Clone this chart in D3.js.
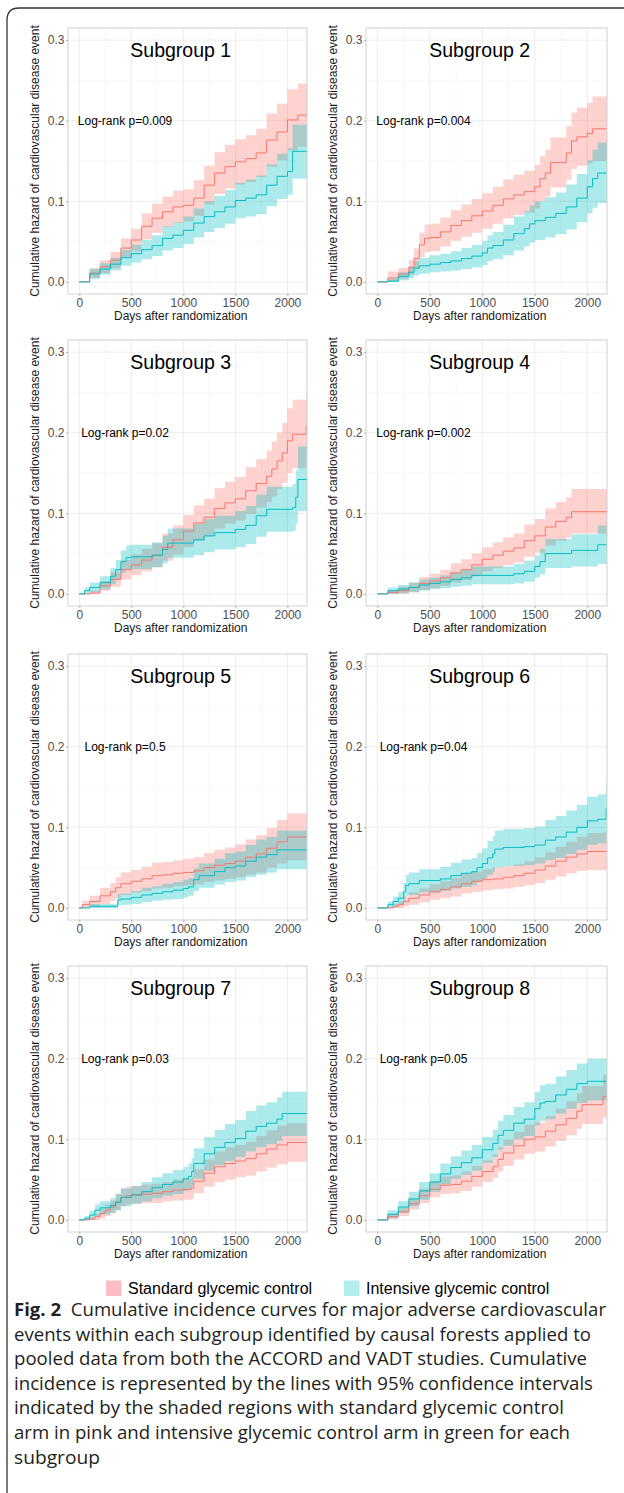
<!DOCTYPE html>
<html>
<head>
<meta charset="utf-8">
<script src="https://cdn.jsdelivr.net/npm/d3@7"></script>
<style>
  body { margin: 0; background: #fff; }
  svg { display: block; }
</style>
</head>
<body>
<script>
// titles, annotations and ticks
let titles = ["Subgroup 1", "Subgroup 2", "Subgroup 3", "Subgroup 4",
  "Subgroup 5", "Subgroup 6", "Subgroup 7", "Subgroup 8"];
let pLabels = ["Log-rank p=0.009", "Log-rank p=0.004", "Log-rank p=0.02", "Log-rank p=0.002",
  "Log-rank p=0.5", "Log-rank p=0.04", "Log-rank p=0.03", "Log-rank p=0.05"];
let xTicks = [0, 500, 1000, 1500, 2000];
let xMinor = [250, 750, 1250, 1750];
let yTicks = [0, 0.1, 0.2, 0.3];
let yMinor = [0.05, 0.15, 0.25];
let xTitle = "Days after randomization";
let yTitle = "Cumulative hazard of cardiovascular disease event";
let legendLabels = ["Standard glycemic control", "Intensive glycemic control"];
let captionBold = "Fig. 2";
let captionLines = [
  "  Cumulative incidence curves for major adverse cardiovascular",
  "events within each subgroup identified by causal forests applied to",
  "pooled data from both the ACCORD and VADT studies. Cumulative",
  "incidence is represented by the lines with 95% confidence intervals",
  "indicated by the shaded regions with standard glycemic control",
  "arm in pink and intensive glycemic control arm in green for each",
  "subgroup"
];

// [day, estimate, lower 95%, upper 95%]  standard (pink) / intensive (green)
let std1 = [[0,0,0,0],[100,.011,.005,.017],[200,.019,.011,.027],[300,.027,.017,.037],[400,.042,.030,.054],[500,.052,.038,.066],[600,.069,.053,.085],[700,.079,.061,.097],[800,.087,.068,.106],[900,.093,.073,.113],[1000,.095,.075,.115],[1100,.104,.082,.126],[1200,.120,.096,.144],[1300,.135,.109,.161],[1400,.143,.116,.170],[1500,.149,.121,.177],[1600,.153,.124,.182],[1700,.160,.130,.190],[1800,.176,.143,.209],[1900,.186,.151,.221],[2000,.201,.163,.239],[2100,.207,.168,.246],[2250,.207,.168,.246]];
let int1 = [[0,0,0,0],[100,.010,.004,.016],[200,.016,.009,.023],[300,.022,.014,.030],[400,.030,.020,.040],[500,.035,.024,.046],[600,.040,.028,.052],[700,.045,.032,.058],[800,.054,.039,.069],[900,.058,.042,.074],[1000,.064,.047,.081],[1100,.073,.055,.091],[1200,.081,.062,.100],[1300,.087,.067,.107],[1400,.093,.072,.114],[1500,.101,.079,.123],[1600,.104,.081,.127],[1700,.108,.084,.132],[1800,.120,.094,.146],[1900,.131,.103,.159],[2000,.137,.108,.166],[2050,.162,.128,.195],[2250,.162,.128,.195]];
let std2 = [[0,0,0,0],[100,.005,.001,.013],[200,.010,.004,.017],[300,.018,.009,.027],[350,.029,.017,.041],[400,.046,.031,.061],[450,.054,.037,.071],[500,.055,.038,.072],[600,.062,.044,.080],[700,.070,.051,.089],[800,.076,.056,.096],[900,.082,.061,.103],[1000,.088,.066,.110],[1100,.095,.072,.118],[1200,.103,.079,.127],[1300,.108,.083,.133],[1400,.112,.086,.138],[1500,.118,.091,.145],[1550,.128,.100,.156],[1600,.135,.106,.164],[1650,.148,.117,.179],[1800,.160,.127,.193],[1850,.175,.140,.210],[1900,.180,.144,.216],[2000,.184,.147,.222],[2050,.190,.150,.230],[2250,.190,.150,.230]];
let int2 = [[0,0,0,0],[100,.001,0,.004],[200,.007,.002,.012],[300,.012,.005,.019],[350,.017,.008,.026],[400,.020,.010,.030],[500,.022,.012,.033],[600,.024,.013,.035],[700,.026,.014,.038],[800,.029,.016,.042],[900,.032,.018,.046],[1000,.036,.021,.051],[1050,.042,.026,.058],[1100,.045,.028,.062],[1200,.052,.033,.071],[1300,.060,.039,.081],[1400,.066,.044,.088],[1450,.072,.049,.095],[1500,.076,.052,.100],[1600,.080,.055,.105],[1700,.085,.059,.111],[1800,.093,.065,.121],[1900,.104,.074,.134],[2000,.118,.085,.151],[2050,.128,.092,.164],[2100,.135,.098,.173],[2250,.135,.098,.173]];
let std3 = [[0,0,0,0],[100,.001,0,.004],[200,.010,.004,.016],[300,.018,.009,.027],[400,.030,.018,.042],[500,.036,.023,.049],[600,.042,.028,.056],[700,.048,.033,.063],[800,.058,.041,.075],[900,.067,.049,.085],[1000,.078,.058,.098],[1100,.088,.066,.110],[1200,.095,.072,.118],[1300,.106,.081,.131],[1400,.113,.087,.139],[1500,.118,.091,.145],[1600,.128,.099,.157],[1700,.137,.107,.167],[1800,.146,.114,.178],[1850,.155,.121,.189],[1900,.165,.130,.200],[1950,.175,.138,.212],[2000,.190,.150,.230],[2050,.198,.156,.241],[2180,.208,.164,.252],[2250,.208,.164,.252]];
let int3 = [[0,0,0,0],[50,.004,0,.008],[100,.008,.002,.014],[200,.014,.006,.022],[300,.022,.012,.032],[350,.030,.018,.042],[400,.040,.026,.054],[450,.045,.030,.060],[500,.046,.031,.061],[700,.048,.033,.064],[800,.055,.038,.072],[850,.063,.045,.081],[1100,.067,.048,.087],[1200,.072,.052,.093],[1300,.076,.055,.097],[1500,.080,.058,.103],[1600,.085,.062,.109],[1700,.097,.071,.123],[1800,.105,.077,.133],[2050,.107,.078,.136],[2080,.120,.087,.153],[2100,.142,.103,.183],[2250,.142,.103,.183]];
let std4 = [[0,0,0,0],[100,.002,0,.005],[200,.004,0,.009],[300,.008,.002,.014],[400,.013,.005,.021],[500,.016,.007,.025],[600,.020,.010,.030],[700,.026,.014,.038],[800,.030,.017,.043],[900,.036,.022,.050],[1000,.043,.028,.058],[1100,.048,.032,.064],[1200,.053,.036,.070],[1300,.057,.039,.075],[1400,.066,.046,.086],[1500,.072,.051,.093],[1600,.083,.060,.106],[1700,.090,.066,.114],[1800,.095,.070,.120],[1850,.102,.075,.130],[2250,.102,.075,.130]];
let int4 = [[0,0,0,0],[100,.004,0,.008],[200,.006,.001,.011],[300,.008,.002,.014],[400,.011,.004,.018],[500,.013,.006,.020],[600,.015,.007,.023],[700,.018,.009,.027],[800,.020,.010,.030],[900,.023,.012,.034],[1300,.025,.013,.037],[1400,.028,.015,.041],[1500,.034,.020,.048],[1550,.040,.024,.056],[1600,.050,.032,.068],[1850,.054,.034,.074],[2100,.061,.037,.085],[2250,.061,.037,.085]];
let std5 = [[0,0,0,0],[30,.004,0,.009],[100,.008,.001,.015],[200,.015,.005,.025],[300,.020,.009,.031],[350,.025,.012,.038],[400,.030,.016,.044],[500,.033,.019,.047],[600,.036,.021,.051],[700,.040,.024,.056],[800,.041,.025,.057],[900,.043,.027,.059],[1000,.044,.028,.061],[1100,.046,.029,.063],[1200,.050,.032,.068],[1300,.053,.034,.072],[1400,.055,.036,.075],[1500,.058,.038,.079],[1600,.063,.041,.085],[1700,.067,.044,.090],[1800,.074,.050,.099],[1900,.082,.055,.109],[2000,.088,.059,.117],[2250,.088,.059,.117]];
let int5 = [[0,0,0,0],[100,.002,0,.005],[370,.010,.003,.017],[400,.011,.004,.018],[500,.013,.005,.021],[600,.016,.007,.025],[700,.018,.009,.027],[800,.020,.010,.030],[900,.022,.011,.032],[1000,.024,.013,.035],[1050,.026,.015,.037],[1100,.035,.021,.049],[1150,.040,.025,.055],[1300,.045,.029,.061],[1400,.050,.032,.068],[1500,.052,.034,.070],[1600,.058,.038,.078],[1700,.063,.041,.085],[1800,.066,.044,.088],[1900,.072,.048,.096],[2250,.072,.048,.096]];
let std6 = [[0,0,0,0],[150,.002,0,.005],[200,.004,0,.008],[250,.008,.002,.014],[300,.012,.004,.019],[400,.016,.007,.024],[500,.020,.010,.029],[600,.023,.012,.033],[700,.026,.014,.037],[800,.030,.018,.042],[900,.033,.020,.045],[1000,.035,.022,.048],[1100,.036,.023,.050],[1200,.038,.024,.052],[1300,.040,.026,.054],[1400,.043,.028,.058],[1500,.047,.031,.063],[1600,.052,.035,.069],[1700,.058,.039,.076],[1800,.063,.043,.082],[1900,.067,.046,.088],[2000,.070,.047,.093],[2250,.070,.047,.093]];
let int6 = [[0,0,0,0],[100,.004,0,.008],[150,.008,.002,.014],[200,.012,.004,.020],[250,.020,.009,.031],[270,.028,.015,.041],[300,.030,.016,.044],[400,.034,.019,.048],[600,.036,.021,.051],[700,.040,.024,.056],[800,.043,.026,.060],[900,.045,.028,.062],[950,.050,.032,.068],[1000,.055,.036,.074],[1050,.062,.041,.083],[1100,.067,.045,.089],[1120,.073,.050,.096],[1200,.075,.052,.098],[1400,.076,.053,.099],[1500,.078,.055,.101],[1600,.084,.059,.109],[1700,.088,.062,.114],[1800,.094,.067,.121],[1900,.100,.072,.128],[2000,.108,.078,.138],[2100,.110,.080,.141],[2180,.123,.090,.156],[2250,.123,.090,.156]];
let std7 = [[0,0,0,0],[100,.001,0,.003],[150,.004,0,.008],[200,.008,.002,.014],[250,.012,.005,.019],[300,.016,.008,.024],[350,.022,.012,.032],[400,.028,.017,.039],[450,.030,.019,.041],[500,.031,.020,.042],[600,.032,.021,.044],[700,.033,.021,.045],[800,.035,.023,.047],[900,.037,.024,.050],[1000,.038,.025,.051],[1080,.040,.026,.054],[1100,.048,.033,.063],[1200,.058,.041,.075],[1300,.066,.047,.085],[1400,.070,.050,.090],[1500,.073,.053,.093],[1600,.076,.055,.097],[1700,.082,.060,.104],[1800,.088,.065,.111],[1900,.093,.069,.117],[2000,.096,.072,.120],[2250,.096,.072,.120]];
let int7 = [[0,0,0,0],[50,.002,0,.005],[100,.006,.001,.011],[150,.012,.005,.019],[200,.015,.007,.023],[300,.018,.009,.027],[350,.022,.012,.032],[400,.028,.017,.039],[500,.031,.020,.042],[600,.035,.023,.047],[700,.040,.027,.053],[800,.044,.030,.058],[900,.047,.032,.062],[1000,.051,.036,.066],[1050,.054,.038,.070],[1080,.060,.043,.077],[1100,.070,.051,.089],[1200,.082,.061,.103],[1300,.090,.068,.112],[1400,.096,.073,.119],[1500,.101,.078,.124],[1600,.110,.085,.135],[1700,.116,.090,.142],[1800,.120,.094,.146],[1900,.125,.098,.152],[1950,.132,.104,.159],[2250,.132,.104,.159]];
let std8 = [[0,0,0,0],[100,.004,.001,.008],[200,.010,.005,.015],[300,.020,.013,.027],[400,.030,.021,.039],[500,.038,.028,.048],[600,.043,.032,.054],[700,.044,.033,.055],[800,.048,.036,.060],[900,.054,.041,.067],[1000,.060,.047,.074],[1100,.066,.052,.081],[1150,.075,.060,.090],[1200,.083,.067,.099],[1300,.092,.075,.109],[1400,.100,.082,.118],[1500,.103,.085,.121],[1600,.110,.091,.129],[1700,.118,.098,.138],[1800,.126,.105,.147],[1900,.135,.113,.157],[1950,.143,.119,.166],[2150,.153,.127,.180],[2250,.153,.127,.180]];
let int8 = [[0,0,0,0],[100,.007,.002,.012],[200,.016,.009,.023],[300,.026,.017,.035],[400,.036,.025,.047],[500,.047,.035,.058],[600,.057,.044,.070],[700,.065,.051,.079],[800,.071,.056,.086],[900,.077,.061,.093],[1000,.087,.071,.103],[1100,.095,.078,.112],[1150,.105,.087,.123],[1200,.111,.092,.130],[1300,.120,.100,.140],[1400,.125,.104,.146],[1500,.138,.117,.159],[1550,.145,.123,.167],[1600,.147,.125,.169],[1700,.155,.132,.178],[1800,.162,.138,.186],[1900,.169,.145,.194],[2000,.172,.148,.200],[2250,.172,.148,.200]];

let stdSeries = [std1, std2, std3, std4, std5, std6, std7, std8];
let intSeries = [int1, int2, int3, int4, int5, int6, int7, int8];

let stdColor = "#F8766D";
let intColor = "#00BFC4";
let font = "'Liberation Sans', Arial, sans-serif";

let width = 624;
let height = 1493;
let cols = [[68, 307], [366, 607]];
let rowTops = [28, 340, 654, 966];
let panelH = 266;

let svg = d3.select("body")
  .append("svg")
  .attr("width", width)
  .attr("height", height);

// outer frame, rounded at the top-left corner
svg.append("path")
  .attr("d", "M7," + (height + 5) + " L7,20 Q7,8 19,8 L" + (width + 5) + ",8")
  .attr("fill", "none")
  .attr("stroke", "#333")
  .attr("stroke-width", 1.3);

let defs = svg.append("defs");

titles.forEach(function(title, i) {
  let col = cols[i % 2];
  let top = rowTops[Math.floor(i / 2)];
  let x = d3.scaleLinear().domain([-108, 2188]).range(col);
  let y = d3.scaleLinear().domain([-0.015, 0.315]).range([top + panelH, top]);
  let g = svg.append("g").attr("class", "panel");

  // grid
  g.selectAll(".minorx").data(xMinor).enter().append("line")
    .attr("x1", d => x(d)).attr("x2", d => x(d))
    .attr("y1", top).attr("y2", top + panelH)
    .attr("stroke", "#f4f4f4").attr("stroke-width", 0.6);
  g.selectAll(".minory").data(yMinor).enter().append("line")
    .attr("x1", col[0]).attr("x2", col[1])
    .attr("y1", d => y(d)).attr("y2", d => y(d))
    .attr("stroke", "#f4f4f4").attr("stroke-width", 0.6);
  g.selectAll(".majorx").data(xTicks).enter().append("line")
    .attr("x1", d => x(d)).attr("x2", d => x(d))
    .attr("y1", top).attr("y2", top + panelH)
    .attr("stroke", "#ebebeb").attr("stroke-width", 0.9);
  g.selectAll(".majory").data(yTicks).enter().append("line")
    .attr("x1", col[0]).attr("x2", col[1])
    .attr("y1", d => y(d)).attr("y2", d => y(d))
    .attr("stroke", "#ebebeb").attr("stroke-width", 0.9);

  let clipId = "clip" + i;
  defs.append("clipPath").attr("id", clipId)
    .append("rect")
    .attr("x", col[0]).attr("y", top)
    .attr("width", col[1] - col[0]).attr("height", panelH);

  let band = d3.area()
    .curve(d3.curveStepAfter)
    .x(d => x(d[0]))
    .y0(d => y(d[2]))
    .y1(d => y(d[3]));
  let line = d3.line()
    .curve(d3.curveStepAfter)
    .x(d => x(d[0]))
    .y(d => y(d[1]));

  let plot = g.append("g").attr("clip-path", "url(#" + clipId + ")");
  plot.append("path").attr("d", band(stdSeries[i]))
    .attr("fill", stdColor).attr("fill-opacity", 0.33);
  plot.append("path").attr("d", band(intSeries[i]))
    .attr("fill", intColor).attr("fill-opacity", 0.32);
  plot.append("path").attr("d", line(stdSeries[i]))
    .attr("fill", "none").attr("stroke", stdColor).attr("stroke-width", 1);
  plot.append("path").attr("d", line(intSeries[i]))
    .attr("fill", "none").attr("stroke", intColor).attr("stroke-width", 1);

  // panel border
  g.append("rect")
    .attr("x", col[0]).attr("y", top)
    .attr("width", col[1] - col[0]).attr("height", panelH)
    .attr("fill", "none").attr("stroke", "#cfcfcf").attr("stroke-width", 1);

  // axes
  let yAxis = g.append("g")
    .attr("transform", "translate(" + col[0] + ",0)")
    .call(d3.axisLeft(y).tickValues(yTicks).tickFormat(d3.format(".1f")).tickSize(2).tickPadding(1.5));
  let xAxis = g.append("g")
    .attr("transform", "translate(0," + (top + panelH) + ")")
    .call(d3.axisBottom(x).tickValues(xTicks).tickFormat(d3.format("d")).tickSize(2).tickPadding(2.5));
  [xAxis, yAxis].forEach(function(a) {
    a.select(".domain").remove();
    a.selectAll(".tick line").attr("stroke", "#b3b3b3");
    a.selectAll(".tick text")
      .attr("fill", "#4d4d4d")
      .style("font-family", font)
      .style("font-size", "12px");
  });

  // axis titles
  g.append("text")
    .attr("x", x(975)).attr("y", top + panelH + 25.5)
    .attr("text-anchor", "middle")
    .style("font-family", font).style("font-size", "12px")
    .attr("fill", "#1a1a1a")
    .text(xTitle);
  g.append("text")
    .attr("transform", "translate(" + (col[0] - 33) + "," + (top + panelH / 2) + ") rotate(-90)")
    .attr("text-anchor", "middle")
    .attr("dy", "0.35em")
    .style("font-family", font).style("font-size", "12px")
    .attr("fill", "#1a1a1a")
    .text(yTitle);

  // subgroup title and log-rank label
  g.append("text")
    .attr("x", x(975)).attr("y", y(0.3) + 17.3)
    .attr("text-anchor", "middle")
    .style("font-family", font).style("font-size", "19.5px")
    .attr("fill", "#000")
    .text(title);
  g.append("text")
    .attr("x", x(440)).attr("y", y(0.2) + 4.3)
    .attr("text-anchor", "middle")
    .style("font-family", font).style("font-size", "12px")
    .attr("fill", "#000")
    .text(pLabels[i]);
});

// legend
let legendItems = [
  {label: legendLabels[0], fill: "#fdbdc2", x: 106},
  {label: legendLabels[1], fill: "#b3eeef", x: 344}
];
let legend = svg.append("g");
legend.selectAll("rect").data(legendItems).enter().append("rect")
  .attr("x", d => d.x).attr("y", 1280.5)
  .attr("width", 15.5).attr("height", 15.5)
  .attr("fill", d => d.fill);
legend.selectAll("text").data(legendItems).enter().append("text")
  .attr("x", d => d.x + 22).attr("y", 1293.5)
  .style("font-family", font).style("font-size", "16px")
  .attr("fill", "#000")
  .text(d => d.label);

// caption
let captionWidths = [592, 577, 573, 579, 550, 556, 86];
let caption = svg.append("g");
captionLines.forEach(function(line, i) {
  let t = caption.append("text")
    .attr("x", 14).attr("y", 1316 + i * 24.6)
    .attr("textLength", captionWidths[i])
    .attr("lengthAdjust", "spacingAndGlyphs")
    .style("font-family", "'Open Sans', 'Noto Sans', sans-serif")
    .style("font-size", "18px")
    .attr("fill", "#231f20")
    .style("white-space", "pre");
  if (i === 0) {
    t.append("tspan").style("font-weight", "bold").text(captionBold);
  }
  t.append("tspan").text(line);
});
</script>
</body>
</html>
